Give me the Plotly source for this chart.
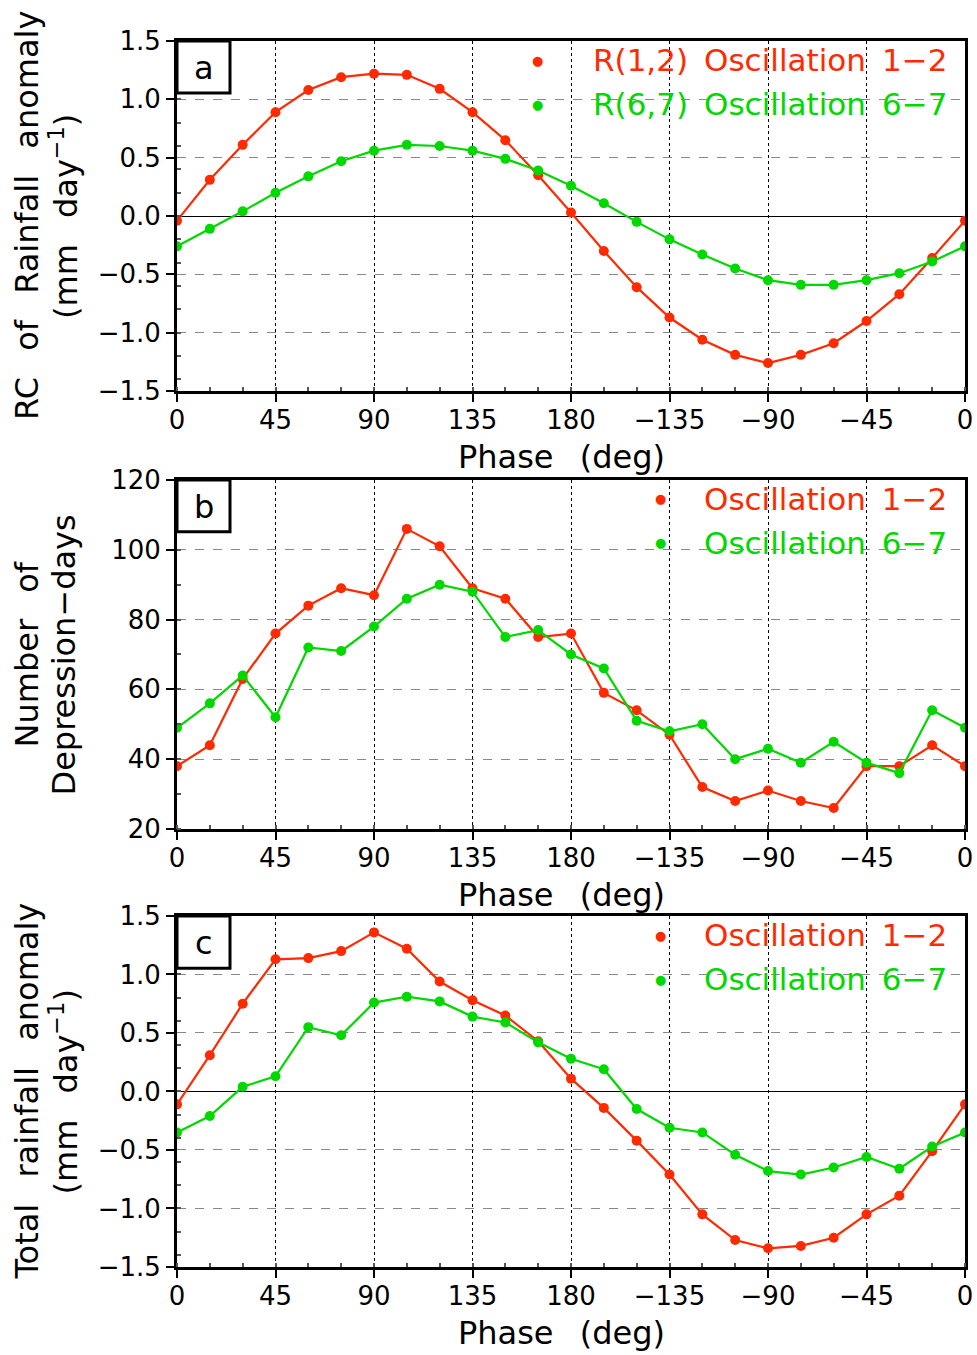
import plotly.graph_objects as go

phase = [0, 15, 30, 45, 60, 75, 90, 105, 120, 135, 150, 165, 180, 195, 210, 225, 240, 255, 270, 285, 300, 315, 330, 345, 360]

rc_osc12 = [-0.04, 0.31, 0.61, 0.89, 1.08, 1.19, 1.22, 1.21, 1.09, 0.89, 0.65, 0.35, 0.03, -0.30, -0.61, -0.87, -1.06, -1.19, -1.26, -1.19, -1.09, -0.90, -0.67, -0.36, -0.04]
rc_osc67 = [-0.26, -0.11, 0.04, 0.20, 0.34, 0.47, 0.56, 0.61, 0.60, 0.56, 0.49, 0.39, 0.26, 0.11, -0.05, -0.20, -0.33, -0.45, -0.55, -0.59, -0.59, -0.55, -0.49, -0.39, -0.26]

days_osc12 = [38, 44, 63, 76, 84, 89, 87, 106, 101, 89, 86, 75, 76, 59, 54, 47, 32, 28, 31, 28, 26, 38, 38, 44, 38]
days_osc67 = [49, 56, 64, 52, 72, 71, 78, 86, 90, 88, 75, 77, 70, 66, 51, 48, 50, 40, 43, 39, 45, 39, 36, 54, 49]

tot_osc12 = [-0.11, 0.31, 0.75, 1.13, 1.14, 1.20, 1.36, 1.22, 0.94, 0.78, 0.65, 0.43, 0.11, -0.14, -0.42, -0.71, -1.05, -1.27, -1.34, -1.32, -1.25, -1.05, -0.89, -0.51, -0.11]
tot_osc67 = [-0.35, -0.21, 0.04, 0.13, 0.55, 0.48, 0.76, 0.81, 0.77, 0.64, 0.59, 0.42, 0.28, 0.19, -0.15, -0.31, -0.35, -0.54, -0.68, -0.71, -0.65, -0.56, -0.66, -0.47, -0.35]

xtick_vals = [0, 45, 90, 135, 180, 225, 270, 315, 360]
xtick_text = ["0", "45", "90", "135", "180", "\u2212135", "\u221290", "\u221245", "0"]
rain_tick_vals = [-1.5, -1.0, -0.5, 0.0, 0.5, 1.0, 1.5]
rain_tick_text = ["\u22121.5", "\u22121.0", "\u22120.5", "0.0", "0.5", "1.0", "1.5"]

RED = "#ff2a00"
GREEN = "#00d800"
FONT = "DejaVu Sans"
GAP = "\u00a0\u2002"      # wide word gap for axis titles
LGAP = "\u00a0\u2009"     # word gap for legend texts


def sp(s, gap=GAP):
    return s.replace(" ", gap)


fig = go.Figure()

panels = [
    dict(y1=rc_osc12, y2=rc_osc67, rng=[-1.5, 1.5], dom=[0.7145, 1.0], label="a", rain=True,
         leg=["R(1,2) Oscillation 1\u22122", "R(6,7) Oscillation 6\u22127"], mx=537,
         title=["RC of Rainfall anomaly", "(mm day<sup>\u22121</sup>)"]),
    dict(y1=days_osc12, y2=days_osc67, rng=[20, 120], dom=[0.3573, 0.6419], label="b", rain=False,
         leg=["Oscillation 1\u22122", "Oscillation 6\u22127"], mx=660,
         title=["Number of", "Depression\u2212days"]),
    dict(y1=tot_osc12, y2=tot_osc67, rng=[-1.5, 1.5], dom=[0.0, 0.2863], label="c", rain=True,
         leg=["Oscillation 1\u22122", "Oscillation 6\u22127"], mx=660,
         title=["Total rainfall anomaly", "(mm day<sup>\u22121</sup>)"]),
]

layout = dict(
    width=977, height=1355,
    margin=dict(l=177, r=12, t=41, b=88, autoexpand=False),
    paper_bgcolor="white", plot_bgcolor="white",
    showlegend=False,
    font=dict(family=FONT, size=26, color="black"),
)

annotations = []
shapes = []
PW = 788.0

for i, p in enumerate(panels):
    n = "" if i == 0 else str(i + 1)
    xa = "x" + n
    ya = "y" + n
    fig.add_trace(go.Scatter(x=phase, y=p["y1"], mode="lines+markers", xaxis=xa, yaxis=ya,
                             line=dict(color=RED, width=2.2), marker=dict(color=RED, size=10)))
    fig.add_trace(go.Scatter(x=phase, y=p["y2"], mode="lines+markers", xaxis=xa, yaxis=ya,
                             line=dict(color=GREEN, width=2.2), marker=dict(color=GREEN, size=10)))
    layout["xaxis" + n] = dict(
        domain=[0, 1], anchor=ya, range=[0, 360], tickvals=xtick_vals, ticktext=xtick_text,
        automargin=False,
        showgrid=True, gridcolor="black", griddash="dot", gridwidth=1,
        showline=True, linecolor="black", linewidth=3, mirror=True,
        ticks="outside", ticklen=8, tickwidth=2, tickcolor="black",
        ticklabelstandoff=-4,
        minor=dict(dtick=15, ticks="inside", ticklen=4, tickcolor="#555", showgrid=False),
        zeroline=False, tickfont=dict(size=26, family=FONT),
    )
    yax = dict(
        domain=p["dom"], anchor=xa, range=p["rng"],
        automargin=False,
        showgrid=True, gridcolor="#888", griddash="dash", gridwidth=1,
        showline=True, linecolor="black", linewidth=3, mirror=True,
        ticks="outside", ticklen=8, tickwidth=2, tickcolor="black",
        minor=dict(ticks="inside", ticklen=4, tickcolor="#555", nticks=3, showgrid=False),
        zeroline=p["rain"], zerolinecolor="black", zerolinewidth=1,
        tickfont=dict(size=26, family=FONT),
    )
    if p["rain"]:
        yax["tickvals"] = rain_tick_vals
        yax["ticktext"] = rain_tick_text
    else:
        yax["dtick"] = 20
    layout["yaxis" + n] = yax

    # panel label box
    shapes.append(dict(type="rect", xref=xa + " domain", yref=ya + " domain",
                       x0=0, x1=53 / PW, y0=1 - 52 / 350, y1=1,
                       line=dict(color="black", width=3), fillcolor="white", layer="above"))
    annotations.append(dict(xref=xa + " domain", yref=ya + " domain", x=27 / PW, y=1 - 27 / 350,
                            text=p["label"], showarrow=False, font=dict(size=32, family=FONT),
                            xanchor="center", yanchor="middle"))
    # legend entries
    for j, (txt, col) in enumerate(zip(p["leg"], [RED, GREEN])):
        yy = 1 - (19 + 44 * j) / 350
        annotations.append(dict(xref=xa + " domain", yref=ya + " domain", x=(949 - 177) / PW, y=yy,
                                text=sp(txt, LGAP), showarrow=False,
                                font=dict(size=31, color=col, family=FONT),
                                xanchor="right", yanchor="middle"))
        annotations.append(dict(xref=xa + " domain", yref=ya + " domain", x=(p["mx"] - 177) / PW, y=yy,
                                text="\u25cf", showarrow=False, font=dict(size=13, color=col),
                                xanchor="center", yanchor="middle"))
    # x title
    annotations.append(dict(xref=xa + " domain", yref=ya + " domain", x=(561 - 177) / PW, y=0, yshift=-66,
                            text="Phase" + GAP + "(deg)", showarrow=False,
                            font=dict(size=32, family=FONT), xanchor="center", yanchor="middle"))
    # y titles
    ymid = (p["dom"][0] + p["dom"][1]) / 2
    annotations.append(dict(xref="paper", yref="paper", x=(27 - 177) / PW, y=ymid,
                            text=sp(p["title"][0]), textangle=-90, showarrow=False,
                            font=dict(size=32, family=FONT), xanchor="center", yanchor="middle"))
    annotations.append(dict(xref="paper", yref="paper", x=(64 - 177) / PW, y=ymid,
                            text=sp(p["title"][1]), textangle=-90, showarrow=False,
                            font=dict(size=32, family=FONT), xanchor="center", yanchor="middle"))

layout["annotations"] = annotations
layout["shapes"] = shapes
fig.update_layout(**layout)

fig.write_html("out.html", config={"displayModeBar": False},
               post_script="document.body.style.margin='0px';")
